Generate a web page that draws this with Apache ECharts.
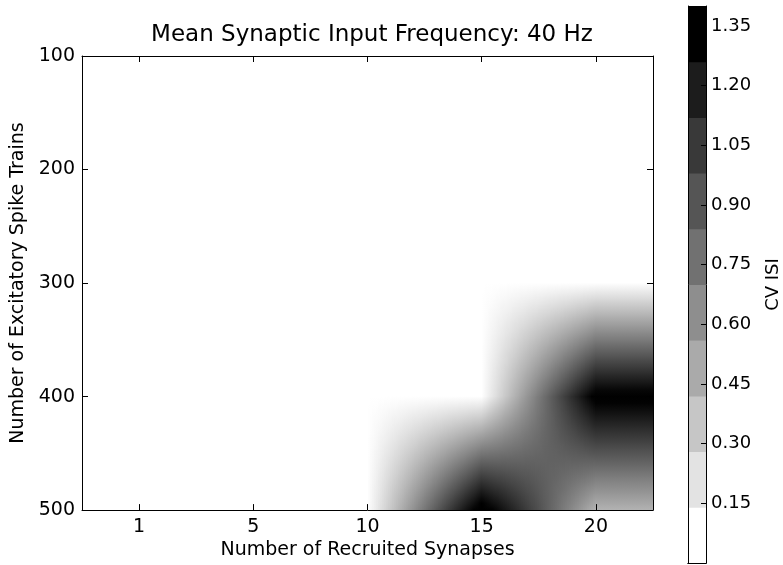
<!DOCTYPE html>
<html>
<head>
<meta charset="utf-8">
<script src="https://cdn.jsdelivr.net/npm/echarts@6/dist/echarts.min.js"></script>
<style>html,body{margin:0;padding:0;background:#fff}#c{width:783px;height:565px}</style>
</head>
<body>
<div id="c"></div>
<script>
// ---- data ----
const xLabels = ['1', '5', '10', '15', '20'];          // Number of Recruited Synapses
const yLevels = [100, 200, 300, 400, 500];              // Number of Excitatory Spike Trains
const cvAt100 = [0, 0, 0, 0, 0];
const cvAt200 = [0, 0, 0, 0, 0];
const cvAt300 = [0, 0, 0, 0, 0];
const cvAt400 = [0, 0, 0, 0, 1.45];
const cvAt500 = [0, 0, 0, 1.5, 0.42];
const cbLevels = [0, 0.14, 0.28, 0.42, 0.56, 0.70, 0.84, 0.98, 1.12, 1.26, 1.40]; // colorbar bands
const cbTicks = [0.15, 0.30, 0.45, 0.60, 0.75, 0.90, 1.05, 1.20, 1.35];
const vMin = 0, vMax = 1.4;

const grid = [cvAt100, cvAt200, cvAt300, cvAt400, cvAt500];
const FONT = 'DejaVu Sans';

function grayOf(v) {
  const t = Math.max(0, Math.min(1, (v - vMin) / (vMax - vMin)));
  const c = Math.round(255 * (1 - t));
  return 'rgb(' + c + ',' + c + ',' + c + ')';
}
function rowAt(row, xf) {
  const x = Math.max(0, Math.min(row.length - 1, xf));
  const i0 = Math.min(Math.floor(x), row.length - 2);
  const f = x - i0;
  return row[i0] * (1 - f) + row[i0 + 1] * f;
}

const heatItems = [];
for (let j = 0; j < yLevels.length - 1; j++) {
  for (let i = 0; i < xLabels.length; i++) {
    heatItems.push([i, yLevels[j], j]);
  }
}
const cbItems = [];
for (let k = 0; k < cbLevels.length - 1; k++) cbItems.push([0, cbLevels[k], cbLevels[k + 1], k]);

const chart = echarts.init(document.getElementById('c'), null, {renderer: 'canvas'});

const axisLineBlack = {show: true, lineStyle: {color: '#000', width: 1}};
const tickIn = {show: true, inside: true, length: 6, lineStyle: {color: '#000', width: 1}};
const labelStyle = {color: '#000', fontFamily: FONT, fontSize: 19};
const AZ = 10;

chart.setOption({
  animation: false,
  backgroundColor: '#fff',
  title: {
    text: 'Mean Synaptic Input Frequency: 40 Hz',
    left: 367, top: 19, textAlign: 'center',
    textStyle: {color: '#000', fontFamily: FONT, fontSize: 23, fontWeight: 'normal'}
  },
  grid: [
    {left: 82, top: 56, width: 571, height: 458},
    {left: 688, top: 6, width: 28, height: 557}
  ],
  xAxis: [
    {gridIndex: 0, z: AZ, type: 'category', data: xLabels, boundaryGap: true, position: 'bottom',
     axisLine: axisLineBlack, axisTick: Object.assign({alignWithLabel: true}, tickIn),
     axisLabel: Object.assign({margin: 7}, labelStyle), splitLine: {show: false},
     name: 'Number of Recruited Synapses', nameLocation: 'middle', nameGap: 26,
     nameTextStyle: labelStyle},
    {gridIndex: 0, z: AZ, type: 'category', data: xLabels, boundaryGap: true, position: 'top',
     axisLine: axisLineBlack, axisTick: Object.assign({alignWithLabel: true}, tickIn),
     axisLabel: {show: false}, splitLine: {show: false}},
    {gridIndex: 1, z: AZ, type: 'category', data: ['cb'], position: 'bottom',
     axisLine: axisLineBlack, axisTick: {show: false}, axisLabel: {show: false}, splitLine: {show: false}},
    {gridIndex: 1, z: AZ, type: 'category', data: ['cb'], position: 'top',
     axisLine: axisLineBlack, axisTick: {show: false}, axisLabel: {show: false}, splitLine: {show: false}}
  ],
  yAxis: [
    {gridIndex: 0, z: AZ, type: 'value', min: 100, max: 500, interval: 100, inverse: true, position: 'left',
     axisLine: axisLineBlack, axisTick: tickIn,
     axisLabel: Object.assign({margin: 7}, labelStyle), splitLine: {show: false},
     name: 'Number of Excitatory Spike Trains', nameLocation: 'middle', nameGap: 47,
     nameTextStyle: labelStyle},
    {gridIndex: 0, z: AZ, type: 'value', min: 100, max: 500, interval: 100, inverse: true, position: 'right',
     axisLine: axisLineBlack, axisTick: tickIn, axisLabel: {show: false}, splitLine: {show: false}},
    {gridIndex: 1, z: AZ, type: 'value', min: vMin, max: vMax, position: 'left',
     axisLine: axisLineBlack, axisTick: {show: false}, axisLabel: {show: false}, splitLine: {show: false}},
    {gridIndex: 1, z: AZ, type: 'value', min: vMin, max: vMax, position: 'right',
     axisLine: axisLineBlack,
     axisTick: {show: true, inside: true, length: 5, customValues: cbTicks, lineStyle: {color: '#000'}},
     axisLabel: Object.assign({margin: 5, customValues: cbTicks, formatter: v => Number(v).toFixed(2)},
       Object.assign({}, labelStyle, {fontSize: 18})),
     splitLine: {show: false},
     name: 'CV ISI', nameLocation: 'middle', nameRotate: 90, nameGap: 58,
     nameTextStyle: Object.assign({}, labelStyle, {fontSize: 18})}
  ],
  series: [
    {
      type: 'custom', xAxisIndex: 0, yAxisIndex: 0, silent: true, clip: true, z: 1,
      encode: {x: 0, y: 1},
      data: heatItems,
      renderItem: function (params, api) {
        const i = api.value(0);
        const j = api.value(2);
        const top = grid[j], bot = grid[j + 1];
        const c = api.coord([i, yLevels[j]]);
        const yTop = c[1];
        const yBot = api.coord([i, yLevels[j + 1]])[1];
        const bw = api.size([1, 0])[0];
        const x0 = c[0] - bw / 2;
        const NS = 57, K = 16;
        const children = [];
        for (let s = 0; s < NS; s++) {
          const xf = i - 0.5 + (s + 0.5) / NS;
          const vt = rowAt(top, xf), vb = rowAt(bot, xf);
          if (vt <= 0 && vb <= 0) continue;
          const stops = [];
          for (let k = 0; k <= K; k++) {
            const t = k / K;
            stops.push({offset: t, color: grayOf(vt + (vb - vt) * t)});
          }
          children.push({
            type: 'rect',
            shape: {x: x0 + s * bw / NS - 0.2, y: yTop - 0.4, width: bw / NS + 0.8, height: yBot - yTop + 0.8},
            style: {fill: {type: 'linear', x: 0, y: 0, x2: 0, y2: 1, colorStops: stops}}
          });
        }
        return {type: 'group', children: children};
      }
    },
    {
      type: 'custom', xAxisIndex: 2, yAxisIndex: 2, silent: true, z: 1,
      encode: {x: 0, y: [1, 2]},
      data: cbItems,
      renderItem: function (params, api) {
        const lo = api.coord([0, api.value(1)]);
        const hi = api.coord([0, api.value(2)]);
        const k = api.value(3);
        const cs = params.coordSys;
        const g = Math.round(255 * (1 - k / (cbLevels.length - 2)));
        return {
          type: 'rect',
          shape: {x: cs.x, y: hi[1], width: cs.width, height: lo[1] - hi[1] + 0.5},
          style: {fill: 'rgb(' + g + ',' + g + ',' + g + ')'}
        };
      }
    }
  ]
});
</script>
</body>
</html>
